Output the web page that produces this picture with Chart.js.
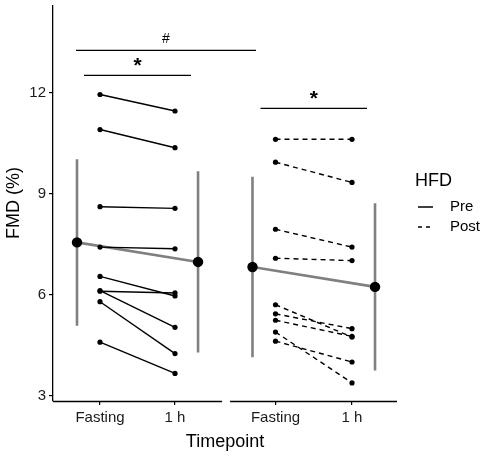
<!DOCTYPE html>
<html>
<head>
<meta charset="utf-8">
<script src="https://cdn.jsdelivr.net/npm/chart.js@4/dist/chart.umd.min.js"></script>
<style>
  html, body { margin: 0; padding: 0; background: #fff; }
  #wrap { width: 490px; height: 457px; }
</style>
</head>
<body>
<div id="wrap"><canvas id="c"></canvas></div>
<script>
// values
const timepoints = ['Fasting', '1 h']
const groups = ['Pre', 'Post']
const preFasting = [11.94, 10.90, 8.61, 7.41, 6.54, 6.10, 6.12, 5.79, 4.59]
const pre1h = [11.45, 10.36, 8.56, 7.36, 5.96, 6.05, 5.03, 4.25, 3.66]
const postFasting = [10.61, 9.93, 7.94, 7.08, 5.70, 5.43, 5.24, 4.89, 4.62]
const post1h = [10.61, 9.33, 7.41, 7.01, 4.74, 4.99, 4.76, 3.38, 4.00]
const meanPre = [7.55, 6.97]
const sdPre = [2.47, 2.69]
const meanPost = [6.82, 6.23]
const sdPost = [2.68, 2.48]
const yTicks = [3, 6, 9, 12]

// layout on the x axis (panel positions)
const groupX = [[1, 2], [3.34, 4.36]]
const meanShift = 0.307
const axisSegments = [[0.373, 2.627], [2.733, 4.96]]
const brackets = [
  { x1: 0.68, x2: 3.08, y: 13.25, label: '#', font: '14px "Liberation Sans"', lift: 7 },
  { x1: 0.787, x2: 2.213, y: 12.51, label: '*', font: 'bold 21px "Liberation Sans"', lift: 3 },
  { x1: 3.14, x2: 4.56, y: 11.53, label: '*', font: 'bold 21px "Liberation Sans"', lift: 3 }
]

const gray = '#808080'
const FONT = '"Liberation Sans", Arial, sans-serif'
const DASH = [5, 4]

const datasets = []
const series = [
  { fast: preFasting, oneh: pre1h, mean: meanPre, sd: sdPre, dash: [] },
  { fast: postFasting, oneh: post1h, mean: meanPost, sd: sdPost, dash: DASH }
]

series.forEach((s, g) => {
  const [xa, xb] = groupX[g]
  // one line per subject
  s.fast.forEach((v, i) => {
    datasets.push({
      data: [{ x: xa, y: v }, { x: xb, y: s.oneh[i] }],
      borderColor: '#000', backgroundColor: '#000',
      borderWidth: 1.4, borderDash: s.dash,
      pointRadius: 2.6, pointBorderWidth: 0,
      order: 1
    })
  })
  // error bars (mean ± sd)
  const mx = [xa - meanShift, xb + meanShift]
  s.mean.forEach((m, k) => {
    datasets.push({
      data: [{ x: mx[k], y: m - s.sd[k] }, { x: mx[k], y: m + s.sd[k] }],
      borderColor: gray, borderWidth: 2.6,
      pointRadius: 0, order: 3
    })
  })
  // mean line with points
  datasets.push({
    data: s.mean.map((m, k) => ({ x: mx[k], y: m })),
    borderColor: gray, borderWidth: 2.6,
    pointRadius: 5.2, pointBackgroundColor: '#000', pointBorderColor: '#000', pointBorderWidth: 0,
    order: 2
  })
})

const xTickVals = [groupX[0][0], groupX[0][1], groupX[1][0], groupX[1][1]]
const xTickText = [timepoints[0], timepoints[1], timepoints[0], timepoints[1]]

const extras = {
  id: 'extras',
  afterDraw(chart) {
    const ctx = chart.ctx
    const xs = chart.scales.x, ys = chart.scales.y
    const yb = chart.chartArea.bottom
    ctx.save()
    // broken x axis line
    ctx.strokeStyle = '#000'
    ctx.lineWidth = 1.3
    axisSegments.forEach(([a, b]) => {
      ctx.beginPath()
      ctx.moveTo(xs.getPixelForValue(a), yb + 0.5)
      ctx.lineTo(xs.getPixelForValue(b), yb + 0.5)
      ctx.stroke()
    })
    // significance brackets
    ctx.fillStyle = '#000'
    ctx.textAlign = 'center'
    ctx.textBaseline = 'alphabetic'
    brackets.forEach(b => {
      const py = ys.getPixelForValue(b.y)
      const p1 = xs.getPixelForValue(b.x1), p2 = xs.getPixelForValue(b.x2)
      ctx.beginPath()
      ctx.moveTo(p1, py)
      ctx.lineTo(p2, py)
      ctx.stroke()
      ctx.font = b.font
      ctx.fillText(b.label, (p1 + p2) / 2, py - b.lift)
    })
    // legend
    ctx.textAlign = 'left'
    ctx.textBaseline = 'middle'
    ctx.font = '18px ' + FONT
    ctx.fillText('HFD', 415, 181)
    ctx.font = '15px ' + FONT
    const rows = [{ y: 207, dash: [] }, { y: 227, dash: [4, 4] }]
    rows.forEach((r, i) => {
      ctx.beginPath()
      ctx.setLineDash(r.dash)
      ctx.lineWidth = 1.5
      ctx.moveTo(418, r.y)
      ctx.lineTo(433, r.y)
      ctx.stroke()
      ctx.setLineDash([])
      ctx.fillText(groups[i], 450, r.y)
    })
    ctx.restore()
  }
}

const noPad = s => { s.paddingTop = 0; s.paddingBottom = 0; s.paddingLeft = 0; s.paddingRight = 0 }

new Chart(document.getElementById('c'), {
  type: 'scatter',
  data: { datasets },
  options: {
    responsive: true,
    maintainAspectRatio: false,
    animation: false,
    showLine: true,
    layout: { padding: { top: 5, right: 93, left: 0, bottom: 0 } },
    plugins: { legend: { display: false }, tooltip: { enabled: false } },
    scales: {
      x: {
        type: 'linear', min: 0.373, max: 4.96,
        afterBuildTicks: s => { s.ticks = xTickVals.map(v => ({ value: v })) },
        afterFit: s => { s.height = 56; noPad(s) },
        border: { display: false },
        grid: { drawOnChartArea: false, color: '#000', tickLength: 4, lineWidth: 1.2 },
        ticks: {
          color: '#1a1a1a', padding: 4, maxRotation: 0, autoSkip: false,
          font: { family: FONT, size: 15 },
          callback: (v, i) => xTickText[i]
        },
        title: { display: true, text: 'Timepoint', color: '#000', font: { family: FONT, size: 18 }, padding: { top: 2, bottom: 4 } }
      },
      y: {
        type: 'linear', min: 2.843, max: 14.59,
        afterBuildTicks: s => { s.ticks = yTicks.map(v => ({ value: v })) },
        afterFit: s => { s.width = 53; noPad(s) },
        border: { display: true, color: '#000', width: 1.3 },
        grid: { drawOnChartArea: false, color: '#000', tickLength: 4, lineWidth: 1.2 },
        ticks: { color: '#1a1a1a', padding: 3, font: { family: FONT, size: 15 } },
        title: { display: true, text: 'FMD (%)', color: '#000', font: { family: FONT, size: 18 }, padding: { top: 3, bottom: 4 } }
      }
    }
  },
  plugins: [extras]
})
</script>
</body>
</html>
